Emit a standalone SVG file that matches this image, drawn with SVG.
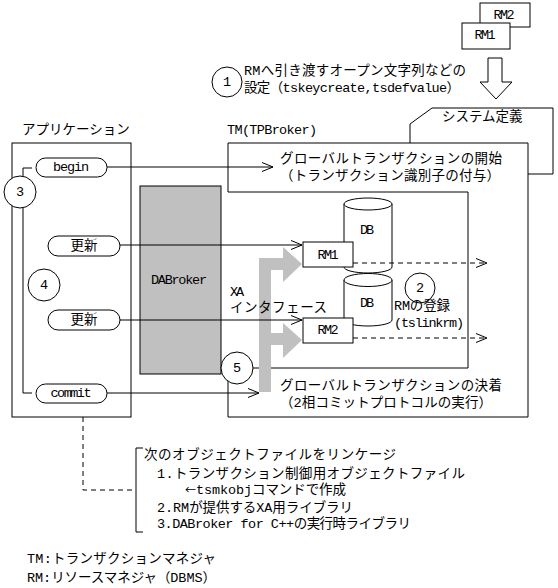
<svg xmlns="http://www.w3.org/2000/svg" width="558" height="588" viewBox="0 0 558 588">
<defs>
<style>
.t{font-family:"Liberation Mono","Noto Sans CJK JP",monospace;font-size:13.5px;fill:#000}
.j{font-family:"Noto Sans CJK JP",sans-serif;font-size:11px}
.c{text-anchor:middle;dominant-baseline:central}
.s{fill:none;stroke:#000;stroke-width:1}
.w{fill:#fff;stroke:#000;stroke-width:1}
.d{stroke-dasharray:5 4}
.g{fill:#c0c0c0}
</style>
<marker id="open" viewBox="0 0 12 10" markerWidth="12" markerHeight="10" refX="11" refY="5" orient="auto" markerUnits="userSpaceOnUse">
<path d="M0,0.5 L11,5 L0,9.5" fill="none" stroke="#000" stroke-width="1"/>
</marker>
</defs>
<rect width="558" height="588" fill="#fff"/>

<g id="rm-cards">
<rect class="w" x="480" y="3" width="50" height="24"/>
<text class="t c" x="504" y="15" textLength="21">RM2</text>
<rect class="w" x="462" y="23" width="48" height="26"/>
<text class="t c" x="485" y="35" textLength="21">RM1</text>
</g>
<g id="def-arrow">
<polygon class="w" points="488,58 502,58 502,82 512,82 496,99 480,82 488,82"/>
</g>
<g id="step1">
<circle class="w" cx="227" cy="82" r="15"/>
<text class="t c" x="227" y="82">1</text>
<text class="t" x="244" y="75" textLength="222">RMへ引き渡すオープン文字列などの</text>
<text class="t" x="244" y="92" textLength="216">設定（tskeycreate,tsdefvalue）</text>
</g>

<g id="sysdef">
<polyline class="s" points="410,143 410,124 432,108 553,108 553,174 528,174"/>
<text class="t" x="442" y="121">システム定義</text>
</g>

<g id="application">
<text class="t" x="22" y="134">アプリケーション</text>
<rect class="s" x="12" y="143" width="119" height="274"/>
</g>

<g id="tm">
<text class="t" x="227" y="134" textLength="90">TM(TPBroker)</text>
<path class="s" d="M253,368 H468 V192 H228 V143 H528 V417 H228 V381"/>
<text class="t" x="280" y="163" textLength="222">グローバルトランザクションの開始</text>
<text class="t" x="280" y="180" textLength="220">（トランザクション識別子の付与）</text>
<text class="t" x="280" y="390" textLength="222">グローバルトランザクションの決着</text>
<text class="t" x="280" y="407" textLength="212">（2相コミットプロトコルの実行）</text>
</g>

<g id="dabroker">
<rect class="g" x="140" y="186" width="81" height="188" stroke="#000" stroke-width="1"/>
<text class="t" x="151" y="284" textLength="56">DABroker</text>
</g>

<g id="xa">
<polygon class="g" points="259,392 259,258 283,258 283,247 302,264 283,282 283,270 271,270 271,333 283,333 283,323 302,340 283,358 283,345 271,345 271,392"/>
<text class="t" x="230" y="296" textLength="14">XA</text>
<text class="t" x="230" y="312" textLength="97">インタフェース</text>
</g>

<g id="db1">
<path class="w" d="M344,204 V267 A24,6 0 0 0 392,267 V204"/>
<ellipse class="w" cx="368" cy="204" rx="24" ry="6"/>
<text class="t c" x="367" y="230" textLength="14">DB</text>
</g>
<g id="db2">
<path class="w" d="M344,280 V320 A24,6 0 0 0 392,320 V280"/>
<ellipse class="w" cx="368" cy="280" rx="24" ry="6.5"/>
<text class="t c" x="367" y="303" textLength="14">DB</text>
</g>
<g id="rm1">
<rect class="w" x="303" y="242" width="50" height="25"/>
<text class="t c" x="328" y="255" textLength="21">RM1</text>
</g>
<g id="rm2">
<rect class="w" x="303" y="318" width="50" height="25"/>
<text class="t c" x="328" y="330" textLength="21">RM2</text>
</g>
<g id="step2">
<circle class="w" cx="420" cy="288" r="15"/>
<text class="t c" x="420" y="288">2</text>
<text class="t" x="394" y="310" textLength="56">RMの登録</text>
<text class="t" x="394" y="327" textLength="70">(tslinkrm)</text>
</g>

<g id="connectors">
<path class="s" d="M32,168 H23 V177"/>
<path class="s" d="M23,207 V393 H32"/>
<line class="s" x1="107" y1="167" x2="273" y2="167" marker-end="url(#open)"/>
<line class="s" x1="120" y1="245" x2="302" y2="245" marker-end="url(#open)"/>
<line class="s" x1="120" y1="320" x2="302" y2="320" marker-end="url(#open)"/>
<line class="s" x1="107" y1="393" x2="259" y2="393" marker-end="url(#open)"/>
<line class="s d" x1="353" y1="263" x2="487" y2="263" marker-end="url(#open)"/>
<line class="s d" x1="353" y1="338" x2="487" y2="338" marker-end="url(#open)"/>
<path class="s d" d="M83,417 V490 H133"/>
</g>

<g id="begin">
<rect class="w" x="36" y="158" width="71" height="19" rx="9.5"/>
<text class="t c" x="71" y="167" textLength="36">begin</text>
</g>
<g id="update1">
<rect class="w" x="48" y="236" width="72" height="20" rx="10"/>
<text class="t c" x="84" y="246">更新</text>
</g>
<g id="update2">
<rect class="w" x="48" y="310" width="72" height="20" rx="10"/>
<text class="t c" x="84" y="320">更新</text>
</g>
<g id="commit">
<rect class="w" x="36" y="384" width="71" height="19" rx="9.5"/>
<text class="t c" x="71" y="393" textLength="41">commit</text>
</g>
<g id="step3">
<circle class="w" cx="20" cy="192" r="16"/>
<text class="t c" x="20" y="192">3</text>
</g>
<g id="step4">
<circle class="w" cx="44" cy="285" r="16"/>
<text class="t c" x="44" y="285">4</text>
</g>
<g id="step5">
<circle class="w" cx="237" cy="368" r="16"/>
<text class="t c" x="237" y="368">5</text>
</g>

<g id="link-note">
<path class="s" d="M143,448 H136 V532 H143"/>
<text class="t" x="144" y="459" textLength="252">次のオブジェクトファイルをリンケージ</text>
<text class="t" x="157" y="478" textLength="308">1.トランザクション制御用オブジェクトファイル</text>
<text class="t" x="185" y="494" textLength="161"><tspan class="j">←</tspan>tsmkobjコマンドで作成</text>
<text class="t" x="157" y="512" textLength="196">2.RMが提供するXA用ライブラリ</text>
<text class="t" x="157" y="528" textLength="254">3.DABroker for C++の実行時ライブラリ</text>
</g>

<g id="legend">
<text class="t" x="27" y="563" textLength="189">TM:トランザクションマネジャ</text>
<text class="t" x="27" y="582" textLength="189">RM:リソースマネジャ（DBMS）</text>
</g>
</svg>
